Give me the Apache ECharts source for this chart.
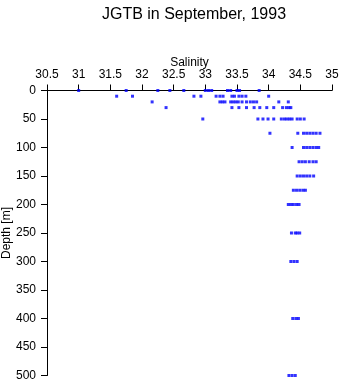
<!DOCTYPE html>
<html>
<head>
<meta charset="utf-8">
<script src="https://cdn.jsdelivr.net/npm/echarts@6/dist/echarts.min.js"></script>
<style>html,body{margin:0;padding:0;background:#fff}#c{width:341px;height:384px}</style>
</head>
<body>
<div id="c"></div>
<script>
var depths = [0, 10, 20, 30, 50, 75, 100, 125, 150, 175, 200, 250, 300, 400, 500];
var salinityByDepth = [
  [31.0, 31.75, 32.25, 32.44, 32.66, 33.0, 33.05, 33.1, 33.35, 33.4, 33.5, 33.54, 33.85],
  [31.6, 31.85, 32.82, 32.93, 33.17, 33.23, 33.28, 33.42, 33.46, 33.53, 33.58, 33.64, 34.0],
  [32.16, 33.23, 33.27, 33.31, 33.4, 33.44, 33.48, 33.52, 33.58, 33.65, 33.71, 33.76, 33.81, 34.16, 34.31],
  [32.38, 33.42, 33.53, 33.65, 33.77, 33.86, 33.97, 34.08, 34.22, 34.28, 34.32, 34.35],
  [32.96, 33.83, 33.91, 33.99, 34.08, 34.2, 34.25, 34.29, 34.33, 34.37, 34.45, 34.5, 34.56],
  [34.02, 34.46, 34.55, 34.6, 34.65, 34.7, 34.75, 34.81],
  [34.37, 34.55, 34.6, 34.65, 34.7, 34.75, 34.79],
  [34.48, 34.53, 34.58, 34.64, 34.7, 34.75],
  [34.45, 34.5, 34.55, 34.6, 34.65, 34.71],
  [34.39, 34.44, 34.49, 34.54, 34.58],
  [34.31, 34.35, 34.39, 34.44, 34.48],
  [34.36, 34.42, 34.45, 34.49],
  [34.35, 34.4, 34.45],
  [34.38, 34.43, 34.47],
  [34.32, 34.37, 34.42]
];
var salinityTicks = ['30.5','31','31.5','32','32.5','33','33.5','34','34.5','35'];
var depthTicks = ['0','50','100','150','200','250','300','350','400','450','500'];

var points = [];
depths.forEach(function (d, i) {
  salinityByDepth[i].forEach(function (s) { points.push([s, d]); });
});

var font = 'Liberation Sans, Arial, sans-serif';
var chart = echarts.init(document.getElementById('c'));
chart.setOption({
  animation: false,
  backgroundColor: '#fff',
  title: {
    text: 'JGTB in September, 1993',
    left: 189,
    textAlign: 'center',
    top: 2,
    textStyle: { fontFamily: font, fontSize: 16, fontWeight: 'normal', color: '#000' }
  },
  grid: { left: 47, top: 90.5, right: 9, bottom: 8.5, containLabel: false, outerBoundsMode: 'none' },
  xAxis: {
    type: 'value',
    position: 'top',
    min: 30.5, max: 35, interval: 0.5,
    name: 'Salinity',
    nameLocation: 'middle',
    nameGap: 22,
    nameMoveOverlap: false,
    nameTextStyle: { fontFamily: font, fontSize: 12, color: '#000' },
    axisLine: { show: true, lineStyle: { color: '#000', width: 1 } },
    axisTick: { show: true, length: 6, lineStyle: { color: '#000' } },
    axisLabel: { fontFamily: font, fontSize: 12, color: '#000', margin: 10, hideOverlap: false,
      formatter: function (v) { var i = Math.round((v - 30.5) / 0.5); return salinityTicks[i] || ''; } },
    splitLine: { show: false }
  },
  yAxis: {
    type: 'value',
    inverse: true,
    min: 0, max: 500, interval: 50,
    name: 'Depth [m]',
    nameLocation: 'middle',
    nameGap: 34,
    nameMoveOverlap: false,
    nameTextStyle: { fontFamily: font, fontSize: 12, color: '#000' },
    axisLine: { show: true, lineStyle: { color: '#000', width: 1 } },
    axisTick: { show: true, length: 6, lineStyle: { color: '#000' } },
    axisLabel: { fontFamily: font, fontSize: 12, color: '#000', margin: 11,
      formatter: function (v) { return depthTicks[Math.round(v / 50)] || ''; } },
    splitLine: { show: false }
  },
  series: [{
    type: 'scatter',
    data: points,
    symbol: 'rect',
    symbolSize: [3, 3],
    itemStyle: { color: '#0000ff' }
  }]
});
</script>
</body>
</html>
